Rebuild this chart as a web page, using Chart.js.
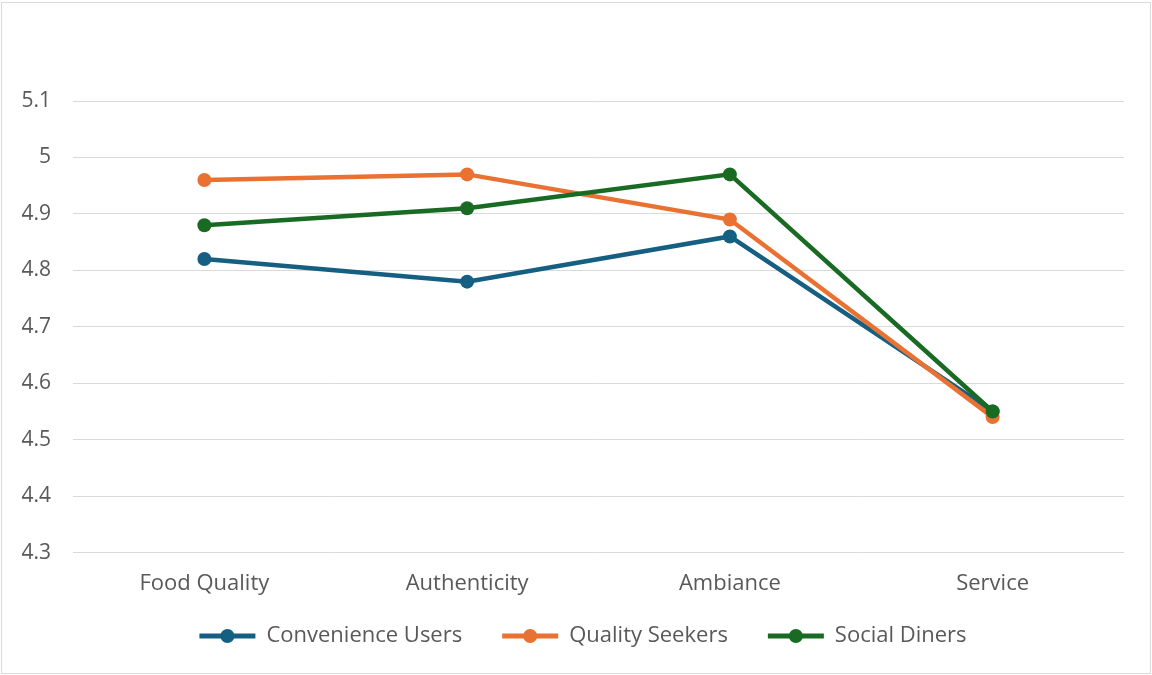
<!DOCTYPE html>
<html>
<head>
<meta charset="utf-8">
<script src="https://cdn.jsdelivr.net/npm/chart.js@4.4.1/dist/chart.umd.min.js"></script>
<style>
  html, body { margin: 0; padding: 0; background: #fff; }
  #wrap { width: 1152px; height: 675px; }
</style>
</head>
<body>
<div id="wrap"><canvas id="myChart" width="1152" height="675"></canvas></div>
<script>
const categories = ["Food Quality", "Authenticity", "Ambiance", "Service"];
const convenienceUsers = [4.82, 4.78, 4.86, 4.55];
const qualitySeekers = [4.96, 4.97, 4.89, 4.54];
const socialDiners = [4.88, 4.91, 4.97, 4.55];
const yTicks = [4.3, 4.4, 4.5, 4.6, 4.7, 4.8, 4.9, 5, 5.1];

const seriesNames = ["Convenience Users", "Quality Seekers", "Social Diners"];
const seriesColors = ["#156082", "#E97132", "#196B24"];
const seriesValues = [convenienceUsers, qualitySeekers, socialDiners];

const FONT = "'Open Sans', sans-serif";

// legend sits closer to the axis labels than its padding would allow
const LEGEND_LIFT = 30;
const LEGEND_NUDGE_X = 21;

// outer frame around the whole chart
const framePlugin = {
    id: 'frame',
    beforeDraw(chart) {
        const ctx = chart.ctx;
        ctx.save();
        ctx.fillStyle = '#fff';
        ctx.fillRect(0, 0, chart.width, chart.height);
        ctx.strokeStyle = '#d9d9d9';
        ctx.lineWidth = 1;
        ctx.strokeRect(1.5, 2.5, chart.width - 3, chart.height - 4);
        ctx.restore();
    }
};

const legendShiftPlugin = {
    id: 'legendShift',
    afterInit(chart) {
        const lg = chart.legend;
        if (!lg) return;
        const fit = lg.fit;
        lg.fit = function () {
            fit.call(this);
            this.height -= LEGEND_LIFT;
        };
    },
    afterLayout(chart) {
        const lg = chart.legend;
        if (!lg) return;
        // grow the box upwards so the text moves up but is not clipped
        lg.top -= LEGEND_LIFT;
        lg.height += LEGEND_LIFT;
        lg.left += LEGEND_NUDGE_X;
        lg.right += LEGEND_NUDGE_X;
    }
};

// marker dot in the middle of each legend line
const legendDotPlugin = {
    id: 'legendDot',
    afterDraw(chart) {
        const legend = chart.legend;
        if (!legend || !legend.legendHitBoxes) return;
        const ctx = chart.ctx;
        const bw = legend.options.labels.boxWidth;
        legend.legendHitBoxes.forEach((box, i) => {
            const cx = box.left + bw / 2;
            const cy = box.top + box.height / 2;
            ctx.save();
            ctx.fillStyle = seriesColors[i];
            ctx.beginPath();
            ctx.arc(cx, cy, 7, 0, Math.PI * 2);
            ctx.fill();
            ctx.restore();
        });
    }
};

const ctx = document.getElementById('myChart').getContext('2d');
const myChart = new Chart(ctx, {
    type: 'line',
    data: {
        labels: categories,
        datasets: seriesNames.map((name, i) => ({
            label: name,
            data: seriesValues[i],
            order: seriesNames.length - 1 - i, // last series drawn on top
            borderColor: seriesColors[i],
            backgroundColor: seriesColors[i],
            borderWidth: 4.5,
            tension: 0,
            fill: false,
            pointRadius: 7,
            pointHoverRadius: 7,
            pointBackgroundColor: seriesColors[i],
            pointBorderColor: seriesColors[i],
            pointBorderWidth: 0
        }))
    },
    options: {
        responsive: false,
        animation: false,
        layout: {
            padding: { top: 101, left: 0, right: 28, bottom: 18 }
        },
        scales: {
            x: {
                offset: true,
                grid: { display: false, drawTicks: false },
                border: { display: false },
                ticks: { padding: 18, color: '#595959', font: { family: FONT, size: 22 } }
            },
            y: {
                min: 4.3,
                max: 5.1,
                afterBuildTicks(axis) {
                    axis.ticks = yTicks.map(v => ({ value: v }));
                },
                afterFit(axis) {
                    axis.width = 73;
                },
                grid: { color: '#d9d9d9', lineWidth: 1, drawTicks: false },
                border: { display: false },
                ticks: {
                    padding: 22,
                    color: '#595959',
                    font: { family: FONT, size: 21 },
                    callback: v => String(Math.round(v * 10) / 10)
                }
            }
        },
        plugins: {
            title: { display: false },
            tooltip: { enabled: false },
            legend: {
                display: true,
                position: 'bottom',
                align: 'center',
                labels: {
                    boxWidth: 56,
                    boxHeight: 5,
                    padding: 40,
                    color: '#595959',
                    font: { family: FONT, size: 22 },
                    generateLabels(chart) {
                        return chart.data.datasets.map((ds, i) => ({
                            text: ds.label,
                            fillStyle: ds.borderColor,
                            strokeStyle: ds.borderColor,
                            lineWidth: 0,
                            fontColor: '#595959',
                            hidden: false,
                            datasetIndex: i
                        }));
                    }
                }
            }
        }
    },
    plugins: [framePlugin, legendShiftPlugin, legendDotPlugin]
});
</script>
</body>
</html>
